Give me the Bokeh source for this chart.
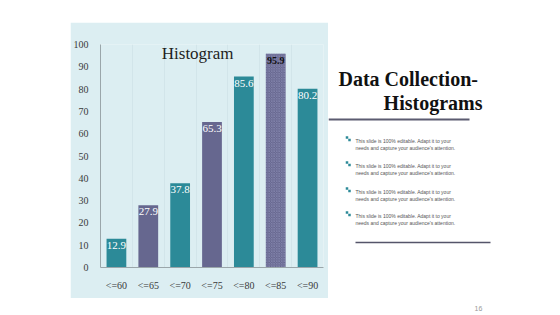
from bokeh.plotting import figure
from bokeh.layouts import row, column
from bokeh.models import Range1d, FixedTicker, Spacer, Label
from bokeh.core.properties import value
from bokeh.embed import file_html
from bokeh.resources import INLINE

categories = ["<=60", "<=65", "<=70", "<=75", "<=80", "<=85", "<=90"]
values = [12.9, 27.9, 37.8, 65.3, 85.6, 95.9, 80.2]
y_ticks = [0, 10, 20, 30, 40, 50, 60, 70, 80, 90, 100]
bullet_text = ["This slide is 100% editable. Adapt it to your",
               "needs and capture your audience's attention."]

TEAL = "#2C8A98"
PURPLE = "#66678F"
BG = "#DCEEF2"
SERIF = "Liberation Serif"

xs = [i + 0.5 for i in range(len(categories))]
colors = [TEAL if i % 2 == 0 else PURPLE for i in range(len(categories))]

chart = figure(width=258, height=276, x_range=Range1d(0, 7), y_range=Range1d(0, 100),
               output_backend="svg", toolbar_location=None,
               min_border_left=28, min_border_right=5, min_border_top=22, min_border_bottom=31)
chart.background_fill_color = BG
chart.border_fill_color = BG
chart.outline_line_color = None

plain = [i for i in range(len(values)) if i != 5]
chart.vbar(x=[xs[i] for i in plain], top=[values[i] for i in plain], width=0.62,
           fill_color=[colors[i] for i in plain], line_color=None)
chart.vbar(x=[xs[5]], top=[values[5]], width=0.62, fill_color=PURPLE, line_color=None,
           hatch_pattern="diagonal_cross", hatch_color="#8C8DB4", hatch_scale=2.5, hatch_weight=0.6)

chart.text(x=[xs[i] for i in plain], y=[values[i] for i in plain],
           text=[f"{values[i]:.1f}" for i in plain],
           text_align="center", text_baseline="top", y_offset=3,
           text_color="white", text_font=value(SERIF), text_font_size="11px")
chart.text(x=[xs[5]], y=[values[5]], text=[f"{values[5]:.1f}"],
           text_align="center", text_baseline="top", y_offset=3,
           text_color="#111111", text_font=value(SERIF), text_font_size="10px",
           text_font_style="bold")

chart.add_layout(Label(x=3.05, y=96, text="Histogram", text_align="center",
                       text_baseline="middle", text_font=SERIF, text_font_size="17px",
                       text_color="#1E1E1E"))

chart.yaxis.ticker = FixedTicker(ticks=y_ticks)
chart.xaxis.ticker = FixedTicker(ticks=xs)
chart.xaxis.major_label_overrides = {x: c for x, c in zip(xs, categories)}
for ax in (chart.xaxis, chart.yaxis):
    ax.major_tick_line_color = None
    ax.minor_tick_line_color = None
    ax.axis_line_color = "#9AA6AA"
    ax.major_label_text_font = SERIF
    ax.major_label_text_font_size = "10px"
    ax.major_label_text_color = "#3A3A3A"
    ax.major_label_standoff = 6
chart.xgrid.ticker = FixedTicker(ticks=[1, 2, 3, 4, 5, 6, 7])
chart.xgrid.grid_line_color = "#D2E5EA"
chart.ygrid.grid_line_color = None

right = figure(width=232, height=315, x_range=Range1d(0, 232), y_range=Range1d(315, 0),
               output_backend="svg", toolbar_location=None,
               min_border=0, min_border_left=0, min_border_right=0,
               min_border_top=0, min_border_bottom=0)
right.axis.visible = False
right.grid.grid_line_color = None
right.outline_line_color = None
right.background_fill_color = "white"
right.border_fill_color = "white"

right.text(x=[10], y=[78], text=["Data Collection-"], text_align="left", text_baseline="middle",
           text_font=value(SERIF), text_font_size="20px", text_font_style="bold", text_color="#111111")
right.text(x=[154], y=[102], text=["Histograms"], text_align="right", text_baseline="middle",
           text_font=value(SERIF), text_font_size="20px", text_font_style="bold", text_color="#111111")
right.segment(x0=[0], y0=[119], x1=[141], y1=[119], line_color="#5B5B70", line_width=2)

bullet_y = [140, 165, 191, 215]
for by in bullet_y:
    right.text(x=[27, 27], y=[by, by + 7], text=bullet_text, text_align="left",
               text_baseline="middle", text_font=value("Liberation Sans"),
               text_font_size="5px", text_color="#555555")
right.scatter(x=[18.5 for _ in bullet_y] + [21 for _ in bullet_y],
              y=[by - 3 for by in bullet_y] + [by - 0.5 for by in bullet_y],
              marker="square", size=2.5, fill_color=TEAL, line_color=None)
right.segment(x0=[27], y0=[242], x1=[162], y1=[242], line_color="#55556A", line_width=1.5)
right.text(x=[150], y=[308], text=["16"], text_align="center", text_baseline="middle",
           text_font=value("Liberation Sans"), text_font_size="7px", text_color="#999999")

layout = row(Spacer(width=70, height=315),
             column(Spacer(width=258, height=22), chart, Spacer(width=258, height=17)),
             right)

open("out.html", "w").write(file_html(layout, INLINE))
